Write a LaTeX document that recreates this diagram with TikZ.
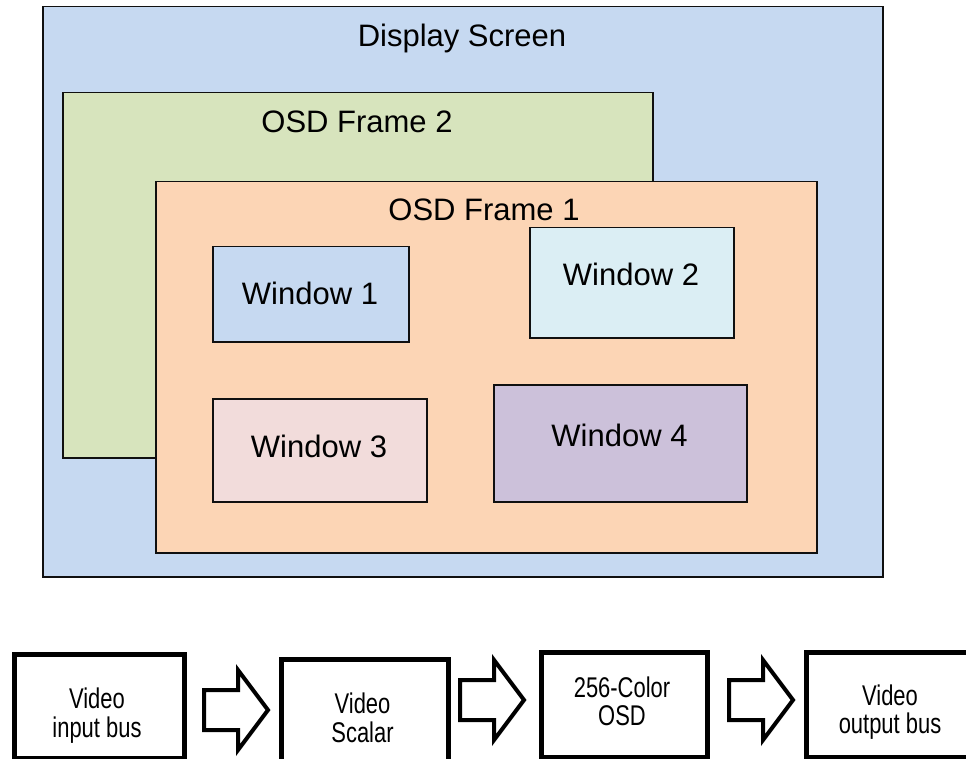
\documentclass[tikz,border=0pt]{standalone}
\usepackage{fontspec}
\setmainfont{Liberation Sans}
\newfontfamily\narrowfont[FakeStretch=0.77]{Liberation Sans}
\definecolor{dispblue}{HTML}{C6D9F1}
\definecolor{frgreen}{HTML}{D7E4BD}
\definecolor{frorange}{HTML}{FCD5B5}
\definecolor{wblue}{HTML}{C6D9F1}
\definecolor{wcyan}{HTML}{DBEEF4}
\definecolor{wpink}{HTML}{F2DCDB}
\definecolor{wviolet}{HTML}{CCC1DA}
\definecolor{edge}{HTML}{101010}
\tikzset{
  panel/.style={draw=edge, line width=1.5pt, inner sep=0pt, anchor=north west},
  lbl/.style={anchor=base, inner sep=0pt, font=\fontsize{31}{36}\selectfont},
  blk/.style={draw=black, line width=5pt, fill=white, inner sep=0pt, anchor=north west},
  btxt/.style={anchor=base, inner sep=0pt, font=\narrowfont\fontsize{28.5}{30}\selectfont},
  barrow/.pic={\draw[line width=4pt, fill=white, line join=miter, miter limit=10]
     (0,-20) -- (34,-20) -- (34,-40) -- (64,0) -- (34,40) -- (34,20) -- (0,20) -- cycle;}
}
\begin{document}
\begin{tikzpicture}[x=1pt,y=-1pt]
\useasboundingbox (0,0) rectangle (966,759);
\clip (0,0) rectangle (966,759);
% screen and frames
\node[panel, fill=dispblue, minimum width=840pt, minimum height=570pt] (screen) at (42,6) {};
\node[lbl] (screent) at (462,47) {Display Screen};
\node[panel, fill=frgreen, minimum width=590pt, minimum height=365pt] (frame2) at (62,92) {};
\node[lbl] (frame2t) at (357,133) {OSD Frame 2};
\node[panel, fill=frorange, minimum width=661pt, minimum height=371pt] (frame1) at (155,181) {};
\node[lbl] (frame1t) at (484,221) {OSD Frame 1};
% windows
\node[panel, fill=wblue, minimum width=196pt, minimum height=95pt] (w1) at (212,246) {};
\node[lbl] (w1t) at (310,305) {Window 1};
\node[panel, fill=wcyan, minimum width=204pt, minimum height=110pt] (w2) at (529,227) {};
\node[lbl] (w2t) at (631,285) {Window 2};
\node[panel, fill=wpink, minimum width=214pt, minimum height=103pt] (w3) at (212,398) {};
\node[lbl] (w3t) at (319,457) {Window 3};
\node[panel, fill=wviolet, minimum width=253pt, minimum height=117pt] (w4) at (493,384) {};
\node[lbl] (w4t) at (619.5,446) {Window 4};
% pipeline
\node[blk, minimum width=170pt, minimum height=104pt] (b1) at (12,652) {};
\node[btxt] (b1a) at (97,708) {Video};
\node[btxt] (b1b) at (97,737) {input bus};
\node[blk, minimum width=167pt, minimum height=106pt] (b2) at (279,657) {};
\node[btxt] (b2a) at (362.5,713) {Video};
\node[btxt] (b2b) at (362.5,742) {Scalar};
\node[blk, minimum width=166pt, minimum height=105pt] (b3) at (539,650) {};
\node[btxt] (b3a) at (622,697) {256-Color};
\node[btxt] (b3b) at (622,725) {OSD};
\node[blk, minimum width=172pt, minimum height=105pt] (b4) at (804,650) {};
\node[btxt] (b4a) at (890,705) {Video};
\node[btxt] (b4b) at (890,733) {output bus};
\pic at (204,710) {barrow};
\pic at (460,700) {barrow};
\pic at (729,700) {barrow};
\end{tikzpicture}
\end{document}
